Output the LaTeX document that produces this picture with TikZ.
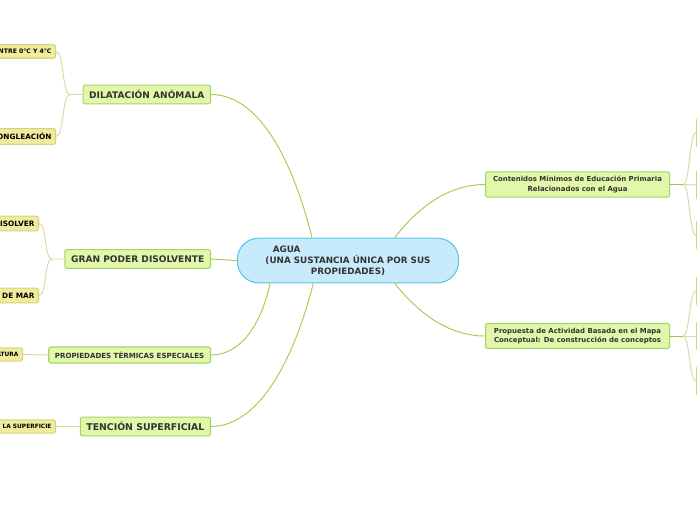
\documentclass[tikz,border=0pt]{standalone}
\usepackage{fontspec}
\setmainfont{DejaVu Sans}
\definecolor{azulc}{HTML}{C8EBFB}
\definecolor{azulb}{HTML}{5CC3EC}
\definecolor{verdec}{HTML}{E1F7A9}
\definecolor{verdeb}{HTML}{A6D46A}
\definecolor{amac}{HTML}{EFEC9E}
\definecolor{amab}{HTML}{D8D27C}
\definecolor{lineav}{HTML}{A9C94C}
\definecolor{lineaa}{HTML}{DAD7A2}
\definecolor{lineao}{HTML}{BDB545}
\definecolor{texto}{HTML}{333333}
\begin{document}
\begin{tikzpicture}[x=0.75pt,y=-0.75pt,
  central/.style={draw=azulb,fill=azulc,thick,rounded corners=16pt,minimum width=166pt,minimum height=33.5pt,align=center,text=texto,font=\fontsize{6.6}{8.3}\selectfont\bfseries},
  rama/.style={draw=verdeb,fill=verdec,thick,rounded corners=1.5pt,inner xsep=4.6pt,minimum height=14pt,text=texto,anchor=east},
  hoja/.style={draw=amab,fill=amac,thick,rounded corners=1.5pt,inner xsep=3pt,minimum height=11pt,text=black,anchor=east,font=\fontsize{5.5}{6}\selectfont\bfseries},
  enlace/.style={draw=lineav,line width=0.7pt},
  enlace2/.style={draw=lineaa,line width=0.7pt}]
  \useasboundingbox (0,0) rectangle (697,520);
  \clip (0,0) rectangle (697,520);
  % nodo central
  \node[central] (agua) at (348,260.5) {AGUA\hspace*{92pt}\\(UNA SUSTANCIA ÚNICA POR SUS\\PROPIEDADES)};
  % ramas
  \node[rama,font=\fontsize{6.8}{8}\selectfont\bfseries] (dil) at (211,94.5) {DILATACIÓN ANÓMALA};
  \node[rama,font=\fontsize{6.8}{8}\selectfont\bfseries] (gran) at (211,259) {GRAN PODER DISOLVENTE};
  \node[rama,minimum height=12pt,font=\fontsize{5.3}{6}\selectfont\bfseries] (term) at (211,355) {PROPIEDADES TÉRMICAS ESPECIALES};
  \node[rama,font=\fontsize{7}{8}\selectfont\bfseries] (ten) at (211,426.5) {TENCIÓN SUPERFICIAL};
  \node[rama,anchor=west,align=center,minimum width=138pt,minimum height=18pt,font=\fontsize{5.2}{7}\selectfont\bfseries] (cont) at (485,184.5) {Contenidos Mínimos de Educación Primaria\\Relacionados con el Agua};
  \node[rama,anchor=west,align=center,minimum width=138pt,minimum height=18pt,font=\fontsize{5.2}{7}\selectfont\bfseries] (prop) at (485,336) {Propuesta de Actividad Basada en el Mapa\\Conceptual: De construcción de conceptos};
  % hojas
  \node[hoja,minimum height=10pt,font=\fontsize{4.6}{5}\selectfont\bfseries] (h1) at (56,51.5) {ENTRE 0°C Y 4°C};
  \node[hoja] (h2) at (56,136.5) {CONGLEACIÓN};
  \node[hoja] (h3) at (39,223.5) {DISOLVER};
  \node[hoja] (h4) at (39,295.5) {AGUA DE MAR};
  \node[hoja,minimum height=10pt,font=\fontsize{4.4}{5}\selectfont\bfseries] (h5) at (23,354.5) {TEMPERATURA};
  \node[hoja,minimum height=10pt,font=\fontsize{4.4}{5}\selectfont\bfseries] (h6) at (56,426.5) {EN LA SUPERFICIE};
  \foreach \n/\y in {r1/133,r2/185,r3/235,r4/291,r5/336,r6/381}
    \node[hoja,anchor=west,minimum width=50pt,minimum height=22pt] (\n) at (696,\y) {};
  % enlaces del nodo central
  \draw[enlace] ([xshift=-27pt]agua.north) .. controls (290,150) and (255,94.5) .. (dil.east);
  \draw[enlace] (agua.west) -- (gran.east);
  \draw[enlace] ([xshift=-58.5pt]agua.south) .. controls (262,322) and (242,355) .. (term.east);
  \draw[enlace] ([xshift=-26pt]agua.south) .. controls (291,370) and (255,426.5) .. (ten.east);
  \draw[enlace] ([xshift=35pt]agua.north) .. controls (420,205) and (450,184.5) .. (cont.west);
  \draw[enlace] ([xshift=35pt]agua.south) .. controls (420,315) and (450,336) .. (prop.west);
  % enlaces de las hojas
  \coordinate (s1) at (70,94.5);
  \coordinate (s2) at (52,259);
  \coordinate (s3) at (683,184.5);
  \coordinate (s4) at (683,336);
  \draw[enlace2] (dil.west) -- (s1) .. controls +(-8,0) and +(8,0) .. (h1.east);
  \draw[enlace2] (s1) .. controls +(-8,0) and +(8,0) .. (h2.east);
  \draw[enlace2] (gran.west) -- (s2) .. controls +(-8,0) and +(8,0) .. (h3.east);
  \draw[enlace2] (s2) .. controls +(-8,0) and +(8,0) .. (h4.east);
  \draw[enlace2] (term.west) -- (h5.east);
  \draw[enlace2] (ten.west) -- (h6.east);
  \draw[draw=lineao,line width=0.7pt] (cont.east) -- (s3);
  \draw[draw=lineao,line width=0.7pt] (prop.east) -- (s4);
  \foreach \a/\b in {s3/r1,s3/r2,s3/r3,s4/r4,s4/r5,s4/r6}
    \draw[enlace2] (\a) .. controls +(7,0) and +(-7,0) .. (\b.west);
\end{tikzpicture}
\end{document}
